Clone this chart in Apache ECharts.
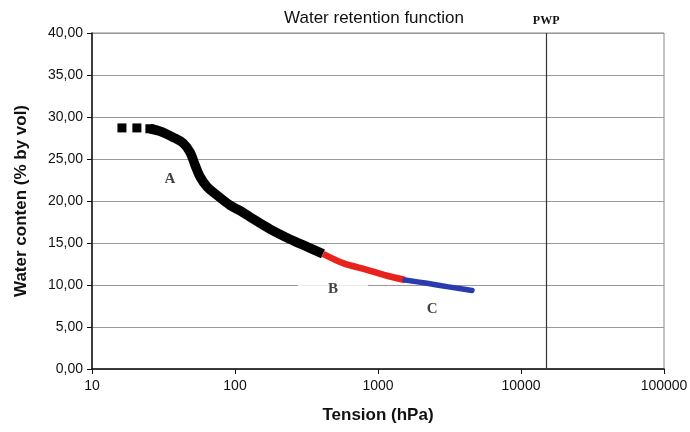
<!DOCTYPE html>
<html><head><meta charset="utf-8">
<script src="https://cdn.jsdelivr.net/npm/echarts@6/dist/echarts.min.js"></script>
<style>html,body{margin:0;padding:0;background:#fff}#c{width:690px;height:432px}</style>
</head><body><div id="c"></div>
<script>
// Tension (hPa), water content (% by vol)
var squaresA = [[16.2, 28.7], [20.6, 28.7], [25.4, 28.6]];
var segA = [[25.4, 28.6], [29.9, 28.3], [36.8, 27.6], [43.3, 26.9], [48.5, 25.8], [52.5, 24.3], [56.9, 22.9], [63.7, 21.7], [74.8, 20.7], [92.3, 19.5], [108.4, 18.85], [127.3, 18.1], [175.7, 16.65], [242.4, 15.45], [334.6, 14.4], [412.5, 13.7]];
var segB = [[412.5, 13.7], [569, 12.6], [838, 11.8], [1156, 11.1], [1545, 10.6]];
var segC = [[1545, 10.6], [2201, 10.2], [3188, 9.75], [4543, 9.35]];
var pwp = 15000;
var yTicks = [0, 5, 10, 15, 20, 25, 30, 35, 40];
var xTicks = [10, 100, 1000, 10000, 100000];
var zoneLabels = [{name: 'A', value: [35.1, 22.6]}, {name: 'B', value: [484, 9.5]}, {name: 'C', value: [2388, 7.14]}];

var chart = echarts.init(document.getElementById('c'));
var serif = '"Liberation Serif", "DejaVu Serif", serif';
var sans = '"Liberation Sans", Arial, sans-serif';
chart.setOption({
  animation: false,
  title: {text: 'Water retention function', left: 369, top: 5, textAlign: 'center',
    textStyle: {fontFamily: sans, fontSize: 17, fontWeight: 'normal', color: '#111'}},
  grid: {left: 92, right: 26, top: 33, bottom: 63, containLabel: false, outerBoundsMode: 'none',
    show: true, borderColor: '#888', borderWidth: 1},
  xAxis: {type: 'log', logBase: 10, min: xTicks[0], max: xTicks[xTicks.length - 1],
    name: 'Tension (hPa)', nameLocation: 'middle', nameGap: 38,
    nameTextStyle: {fontFamily: sans, fontSize: 17, fontWeight: 'bold', color: '#111'},
    axisLine: {lineStyle: {color: '#111', width: 1.5}},
    axisTick: {show: true, length: 5, lineStyle: {color: '#111'}},
    axisLabel: {fontFamily: sans, fontSize: 14, color: '#111', margin: 10,
      formatter: function (v) { return String(Math.round(v)); }},
    splitLine: {show: false}, minorTick: {show: false}},
  yAxis: {type: 'value', min: yTicks[0], max: yTicks[yTicks.length - 1], interval: 5,
    name: 'Water conten (% by vol)', nameLocation: 'middle', nameGap: 62,
    nameTextStyle: {fontFamily: sans, fontSize: 17, fontWeight: 'bold', color: '#111'},
    axisLine: {show: true, lineStyle: {color: '#111', width: 1.5}},
    axisTick: {show: true, length: 5, lineStyle: {color: '#111'}},
    axisLabel: {fontFamily: sans, fontSize: 14, color: '#111', margin: 9,
      formatter: function (v) { return v.toFixed(2).replace('.', ','); }},
    splitLine: {show: true, lineStyle: {color: '#999', width: 1}}},
  series: [
    {type: 'line', data: segA, symbol: 'none', smooth: 0.35, lineStyle: {color: '#000', width: 9.5, cap: 'butt', join: 'round'}, z: 3,
      markLine: {silent: true, symbol: 'none', data: [{xAxis: pwp}],
        lineStyle: {color: '#333', width: 1.2, type: 'solid'},
        label: {show: true, position: 'end', formatter: 'PWP', distance: 6,
          fontFamily: serif, fontSize: 12, fontWeight: 'bold', color: '#111'}}},
    {type: 'scatter', data: squaresA, symbol: 'rect', symbolSize: 9, itemStyle: {color: '#000', opacity: 1}, z: 3},
    {type: 'line', data: segB, symbol: 'none', smooth: 0.3, lineStyle: {color: '#e8231e', width: 6.5, cap: 'butt', join: 'round'}, z: 3},
    {type: 'line', data: segC, symbol: 'none', smooth: 0.3, lineStyle: {color: '#2a3bb0', width: 5.5, cap: 'round', join: 'round'}, z: 3},
    {type: 'scatter', symbolSize: 0, z: 4,
      data: zoneLabels.map(function (d) {
        var o = {name: d.name, value: d.value};
        if (d.name === 'B') o.label = {backgroundColor: '#fff', padding: [3, 30, 3, 30]};
        return o;
      }),
      label: {show: true, position: 'inside', formatter: '{b}',
        fontFamily: serif, fontSize: 15, fontWeight: 'bold', color: '#111'}}
  ]
});
</script></body></html>
